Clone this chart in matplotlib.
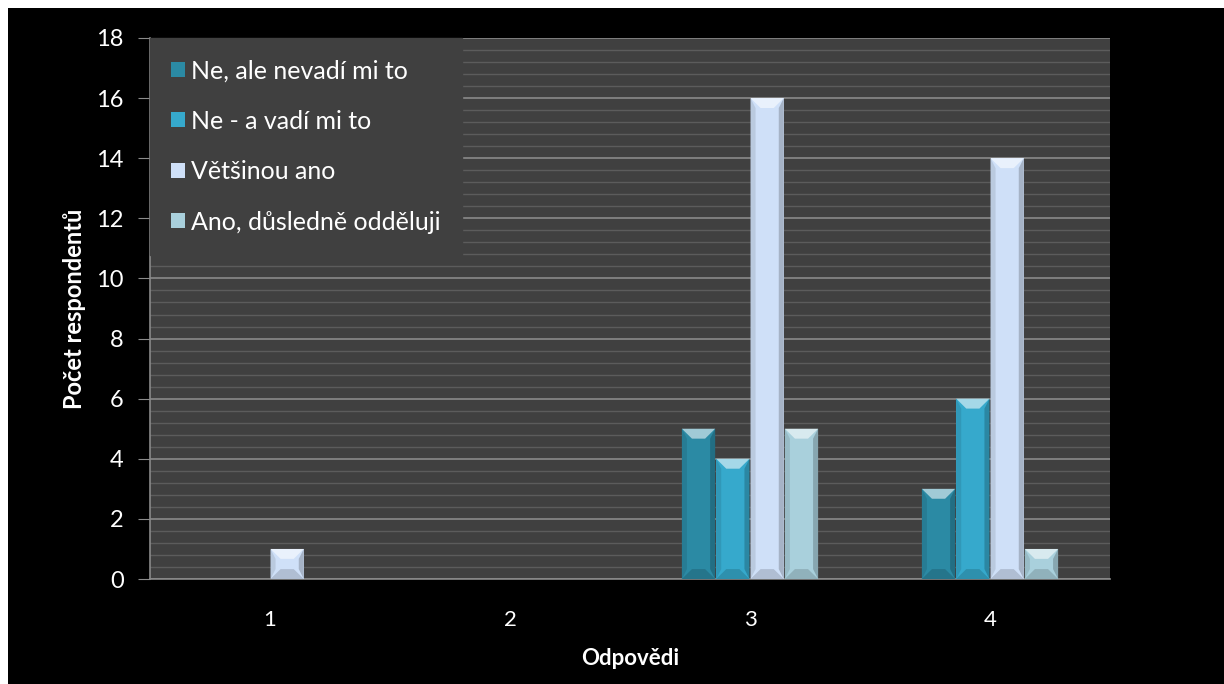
import numpy as np
import matplotlib
matplotlib.use("Agg")
import matplotlib.pyplot as plt
from matplotlib.patches import Polygon
from matplotlib.ticker import MultipleLocator
from matplotlib.colors import to_rgb

# answer groups on the x axis and the four answer series
categories = ["1", "2", "3", "4"]
series_names = ["Ne, ale nevadí mi to", "Ne - a vadí mi to",
                "Většinou ano", "Ano, důsledně odděluji"]
ne_nevadi = [0, 0, 5, 3]
ne_vadi = [0, 0, 4, 6]
vetsinou_ano = [1, 0, 16, 14]
ano_odeluji = [0, 0, 5, 1]
series_values = [ne_nevadi, ne_vadi, vetsinou_ano, ano_odeluji]
series_colors = ["#2b8aa4", "#36a9cc", "#cfe0f8", "#a9d0dc"]

plt.rcParams['font.family'] = ['Lato', 'DejaVu Sans']


def shade(color, factor):
    r, g, b = to_rgb(color)
    if factor >= 1:
        f = factor - 1
        return (r + (1 - r) * f, g + (1 - g) * f, b + (1 - b) * f)
    return (r * factor, g * factor, b * factor)


fig = plt.figure(figsize=(12.24, 6.84), dpi=100, facecolor="white")
# black panel inside a thin white margin, kept behind the axes
fig.patches.append(plt.Rectangle((8 / 1224, 0), 1 - 8 / 1224, 1 - 8 / 684,
                                 transform=fig.transFigure,
                                 facecolor="black", zorder=-1))
ax = fig.add_axes([150 / 1224, 1 - 579 / 684, 960 / 1224, 541 / 684])
ax.set_facecolor("#404040")

x = np.arange(1, len(categories) + 1)
bar_w = 0.143
offsets = (np.arange(len(series_names)) - 1.5) * bar_w

for vals, name, col, off in zip(series_values, series_names,
                                series_colors, offsets):
    bars = ax.bar(x + off, vals, width=bar_w * 0.97, color=col,
                  label=name, zorder=3, linewidth=0)
    # bevelled edges on each bar
    for rect in bars:
        h = rect.get_height()
        if h <= 0:
            continue
        x0 = rect.get_x()
        w = rect.get_width()
        b = 0.042
        d = 0.33
        top = Polygon([(x0, h), (x0 + w, h), (x0 + w - b, h - d),
                       (x0 + b, h - d)], closed=True,
                      facecolor=shade(col, 1.55), linewidth=0, zorder=4)
        bottom = Polygon([(x0, 0), (x0 + w, 0), (x0 + w - b, d),
                          (x0 + b, d)], closed=True,
                         facecolor=shade(col, 0.85), linewidth=0, zorder=4)
        left = Polygon([(x0, 0), (x0 + b * 0.5, d), (x0 + b * 0.5, h - d),
                        (x0, h)], closed=True,
                       facecolor=shade(col, 0.9), linewidth=0, zorder=4)
        right = Polygon([(x0 + w, 0), (x0 + w - b * 0.5, d),
                         (x0 + w - b * 0.5, h - d), (x0 + w, h)],
                        closed=True, facecolor=shade(col, 0.8),
                        linewidth=0, zorder=4)
        for p in (top, bottom, left, right):
            ax.add_patch(p)

ax.set_xlim(0.5, 4.5)
ax.set_ylim(0, 18)
ax.yaxis.set_major_locator(MultipleLocator(2))
ax.yaxis.set_minor_locator(MultipleLocator(0.4))
ax.grid(which="major", axis="y", color="#8a8a8a", linewidth=1.2, zorder=1)
ax.grid(which="minor", axis="y", color="#5c5c5c", linewidth=1.0, zorder=1)
ax.set_xticks(x)
ax.set_xticklabels(categories)

for side in ("top", "right"):
    ax.spines[side].set_visible(False)
for side in ("left", "bottom"):
    ax.spines[side].set_color("#8a8a8a")
    ax.spines[side].set_linewidth(1.2)

ax.tick_params(axis="y", which="major", colors="#8a8a8a", labelcolor="white",
               labelsize=17, length=9, pad=10)
ax.tick_params(axis="y", which="minor", length=0)
ax.tick_params(axis="x", length=0, labelcolor="white", labelsize=16, pad=22)

ax.set_xlabel("Odpovědi", color="white", fontsize=16, fontweight="bold",
              labelpad=13)
ax.set_ylabel("Počet respondentů", color="white", fontsize=17,
              fontweight="bold", labelpad=7)

leg = ax.legend(loc="upper left", frameon=True, facecolor="#404040",
                edgecolor="#404040", framealpha=1.0, fontsize=18,
                labelcolor="white", handlelength=0.55, handleheight=0.55,
                handletextpad=0.25, labelspacing=1.1,
                borderpad=0.85, borderaxespad=0.0)
leg.get_frame().set_boxstyle("square", pad=0)
leg.set_zorder(5)

fig.savefig("out.png", dpi=100, facecolor=fig.get_facecolor())
